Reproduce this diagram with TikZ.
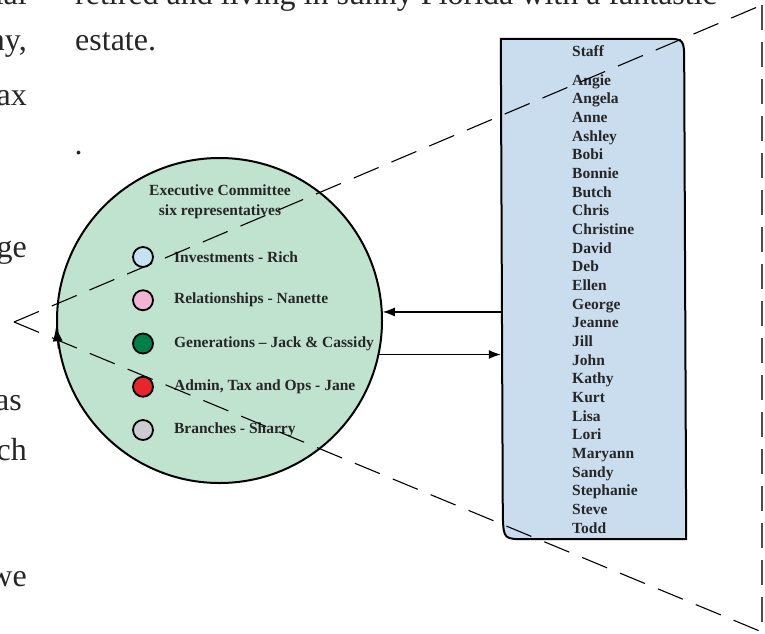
\documentclass[tikz,border=0pt]{standalone}
\usepackage{fontspec}
\setmainfont{Liberation Serif}
\definecolor{circlegreen}{RGB}{192, 227, 207}
\definecolor{staffblue}{RGB}{201, 221, 239}
\definecolor{dotblue}{RGB}{196, 226, 242}
\definecolor{dotpink}{RGB}{241, 180, 210}
\definecolor{dotgreen}{RGB}{0, 128, 72}
\definecolor{dotred}{RGB}{232, 38, 42}
\definecolor{dotgray}{RGB}{204, 204, 208}
\definecolor{inkgray}{RGB}{38, 38, 38}
\usetikzlibrary{shapes, arrows.meta, positioning, calc}

\tikzset{
  pagetext/.style={font=\fontsize{32}{38}\selectfont, text=inkgray, inner sep=0pt},
  committee/.style={circle, draw, line width=2pt, fill=circlegreen, minimum size=325pt, inner sep=0pt},
  roledot/.style={circle, draw, line width=1.8pt, minimum size=20pt, inner sep=0pt},
  itemlabel/.style={font=\fontsize{15.5}{20}\selectfont\bfseries, text=inkgray, inner sep=0pt},
  staffname/.style={font=\fontsize{15.5}{18}\selectfont\bfseries, text=inkgray, inner sep=0pt, anchor=base west},
  flow/.style={line width=1.2pt, -{Latex[length=12pt, width=9pt]}},
  cone/.style={line width=1.1pt, dash pattern=on 27pt off 14pt},
}

\begin{document}
\begin{tikzpicture}[x=1pt, y=-1pt]
  \useasboundingbox (0,0) rectangle (765,633);
  \clip (0,0) rectangle (765,633);

  % page text around the figure
  \node[pagetext, anchor=base west] (top) at (75,4) {retired and living in sunny Florida with a fantastic};
  \node[pagetext, anchor=base west] (estate) at (75,50) {estate.};
  \node[pagetext, anchor=base west] (stop) at (74.5,154) {.};
  \node[pagetext, anchor=base east] (frag1) at (27,4) {ial};
  \node[pagetext, anchor=base east] (frag2) at (27,50) {ny,};
  \node[pagetext, anchor=base east] (frag3) at (27,105) {ax};
  \node[pagetext, anchor=base east] (frag4) at (27,257) {ge};
  \node[pagetext, anchor=base east] (frag5) at (22,410) {as};
  \node[pagetext, anchor=base east] (frag6) at (27,460) {ch};
  \node[pagetext, anchor=base east] (frag7) at (27,586) {we};

  \node[committee] (committee) at (219.5,320.5) {};
  \node[itemlabel, align=center] (header) at (220,202) {Executive Committee\\six representatives};
  \foreach \col/\role [count=\i from 0] in {dotblue/Investments - Rich, dotpink/Relationships - Nanette,
      dotgreen/Generations -- Jack \& Cassidy, dotred/{Admin, Tax and Ops - Jane}, dotgray/Branches - Sharry} {
    \node[roledot, fill=\col] (dot\i) at (143, 257+43.25*\i) {};
    \node[itemlabel, right=20pt of dot\i] (role\i) {\role};
  }

  \node[minimum width=185pt, minimum height=500pt, inner sep=0pt] (staffbox) at (593.5,289) {};
  \draw[line width=2pt, fill=staffblue] (staffbox.north west) -- ([xshift=-22pt]staffbox.north east)
    .. controls ([xshift=-2pt]staffbox.north east) .. ([xshift=-2pt, yshift=-24pt]staffbox.north east)
    -- (staffbox.south east) -- ([xshift=26pt]staffbox.south west)
    .. controls ([xshift=3pt]staffbox.south west) .. ([xshift=2pt, yshift=22pt]staffbox.south west) -- cycle;
  \node[staffname] (stafftitle) at (572,56) {Staff};
  \foreach \name [count=\i from 0] in {Angie, Angela, Anne, Ashley, Bobi, Bonnie, Butch, Chris, Christine,
      David, Deb, Ellen, George, Jeanne, Jill, John, Kathy, Kurt, Lisa, Lori, Maryann, Sandy, Stephanie, Steve, Todd}
    \node[staffname] (name\i) at (572, 85+18.67*\i) {\name};

  \draw[flow] (staffbox.west |- committee.3.35) -- (committee.3.35);
  \draw[flow] (committee.-12.26) -- (staffbox.west |- committee.-12.26);

  \coordinate (apex) at (14,322);
  \coordinate (topcorner) at (762,5);
  \coordinate (botcorner) at (762,632);
  \draw[cone] (apex) -- (topcorner);
  \draw[cone] (apex) -- (botcorner);
  \draw[cone, black!70, dash pattern=on 25pt off 12pt] (topcorner) -- (botcorner);
  \draw[line width=1.2pt, -{Latex[length=15pt, width=10pt]}] (committee.190) -- (committee.182);
\end{tikzpicture}
\end{document}
